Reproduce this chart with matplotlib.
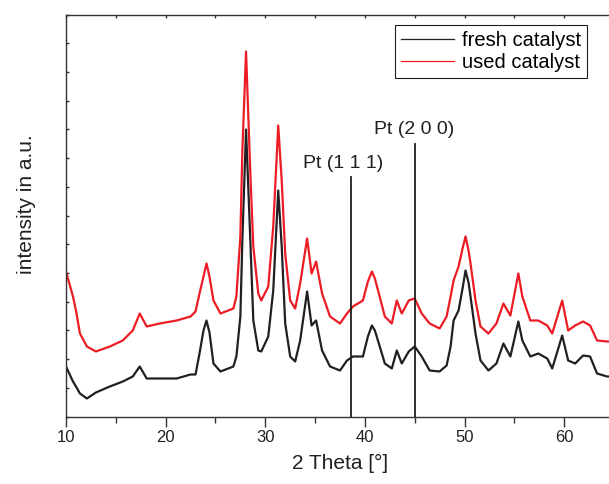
import numpy as np
import matplotlib
matplotlib.use("Agg")
import matplotlib.pyplot as plt
from matplotlib.ticker import MultipleLocator

plt.rcParams['font.family'] = ['Liberation Sans', 'DejaVu Sans']

# 2 Theta grid (deg) and intensities (a.u.)
two_theta = [10.0, 10.7, 11.0, 11.4, 12.1, 13.0, 14.4, 15.7, 16.7, 17.4,
             18.1, 19.4, 21.1, 22.5, 23.0, 23.4, 23.8, 24.1, 24.4, 24.8,
             25.5, 26.8, 27.1, 27.5, 27.7, 28.07, 28.5, 28.8, 29.3, 29.6,
             30.3, 30.8, 31.3, 31.65, 32.0, 32.5, 33.0, 33.5, 34.2, 34.65,
             35.1, 35.7, 36.5, 37.5, 38.2, 38.8, 39.8, 40.3, 40.7, 41.0,
             41.4, 42.0, 42.7, 43.2, 43.7, 44.4, 45.0, 45.7, 46.5, 47.5,
             48.2, 48.6, 48.9, 49.4, 49.8, 50.1, 50.4, 50.6, 51.1, 51.6,
             52.4, 53.2, 53.9, 54.6, 55.4, 55.8, 56.6, 57.4, 58.3, 58.8,
             59.8, 60.4, 61.1, 61.9, 62.6, 63.3, 64.3, 65.0]

fresh = [50, 35, 30, 23, 18, 24, 30, 35, 40, 50,
         38, 38, 38, 42, 42, 63, 86, 96, 84, 53,
         45, 50, 60, 100, 176, 287, 176, 96, 66, 65,
         80, 126, 226, 170, 93, 60, 55, 76, 125, 91,
         96, 66, 50, 46, 56, 60, 60, 80, 91, 86,
         73, 53, 48, 66, 53, 65, 70, 60, 46, 45,
         51, 70, 96, 106, 128, 146, 134, 120, 83, 56,
         46, 53, 73, 60, 95, 76, 60, 63, 58, 48,
         81, 56, 53, 61, 60, 43, 40, 40]

used = [145, 120, 106, 83, 70, 65, 70, 76, 86, 103,
        90, 93, 96, 100, 105, 123, 140, 153, 140, 116,
        103, 108, 120, 180, 266, 365, 243, 170, 123, 116,
        130, 190, 291, 236, 163, 116, 108, 133, 178, 143,
        155, 123, 100, 93, 103, 110, 116, 135, 145, 138,
        123, 100, 93, 116, 103, 116, 118, 103, 93, 88,
        100, 120, 136, 150, 168, 180, 166, 153, 116, 90,
        83, 93, 113, 101, 143, 120, 96, 96, 91, 83,
        116, 86, 91, 95, 91, 76, 75, 75]

pt_pos = [38.6, 45.0]
pt_top = [240, 273]
pt_labels = ['Pt (1 1 1)', 'Pt (2 0 0)']
pt_label_x = [37.85, 44.95]

fig = plt.figure(figsize=(6.09, 4.84), dpi=100)
ax = fig.add_axes([66/609, 67.5/484, 548/609, 402/484])

ax.plot(two_theta, fresh, color='#231f20', lw=1.6, label='fresh catalyst')
ax.plot(two_theta, used, color='#ec1c24', lw=1.6, label='used catalyst')

for p, top, lab, lx in zip(pt_pos, pt_top, pt_labels, pt_label_x):
    ax.plot([p, p], [0, top], color='#231f20', lw=1.3)
    ax.text(lx, top + 5, lab, ha='center', va='bottom', fontsize=14, color='#231f20')

ax.set_xlim(10, 65)
ax.set_ylim(0, 402)
ax.xaxis.set_major_locator(MultipleLocator(10))
ax.xaxis.set_minor_locator(MultipleLocator(5))
ax.yaxis.set_major_locator(MultipleLocator(402/14))
ax.set_yticklabels([])

for s in ax.spines.values():
    s.set_color('#333333')
    s.set_linewidth(1.0)
ax.spines['right'].set_visible(False)

ax.tick_params(axis='x', which='major', direction='out', length=7, width=1,
               labelsize=12, colors='#333333', labelcolor='#231f20', pad=3)
ax.tick_params(axis='x', which='minor', direction='out', length=4, width=1, colors='#333333')
ax.tick_params(axis='x', which='both', top=True)
ax.tick_params(axis='y', direction='in', length=2.5, width=1, colors='#333333', right=False)

# top ticks point inward
for t in ax.xaxis.get_major_ticks() + ax.xaxis.get_minor_ticks():
    t.tick2line.set_marker(matplotlib.lines.TICKDOWN)
    t.tick2line.set_markersize(2)

ax.set_xlabel('2 Theta [°]', fontsize=15, color='#231f20', labelpad=6)
fig.text(26/609, 1 - 204/484, 'intensity in a.u.', rotation=90, ha='center', va='center',
         fontsize=15, color='#231f20')

leg = ax.legend(loc='upper right', bbox_to_anchor=(587/609, 1 - 24.7/484),
                bbox_transform=fig.transFigure, borderaxespad=0, fontsize=14.5,
                fancybox=False, framealpha=1, edgecolor='#231f20', handlelength=2.6,
                handletextpad=0.4, borderpad=0.3, labelspacing=0.15)
leg.get_frame().set_linewidth(0.8)
for h in leg.get_lines():
    h.set_linewidth(0.9)

fig.savefig('out.png', dpi=100)
